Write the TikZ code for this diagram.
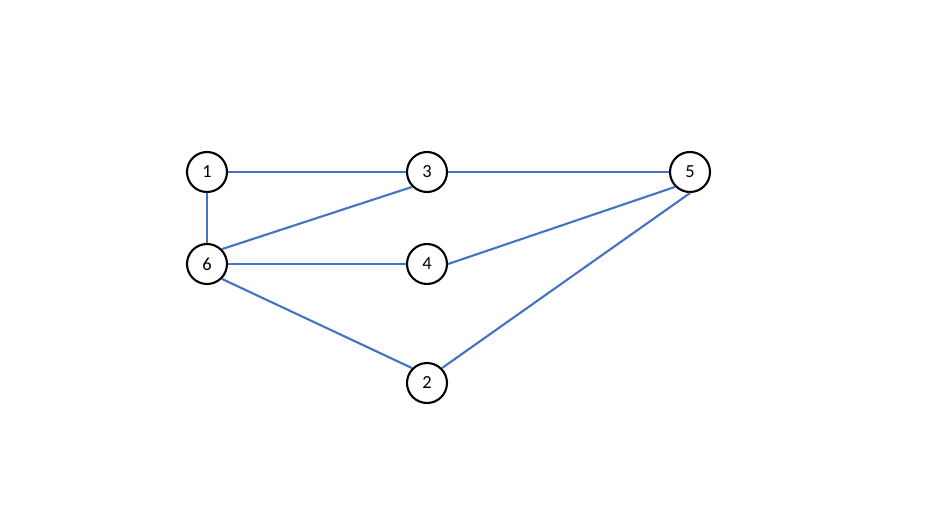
\documentclass[tikz,border=0pt]{standalone}
\usepackage{fontspec}
\setmainfont{Carlito}
\usetikzlibrary{positioning}
\definecolor{edgeblue}{RGB}{68,114,196}
\tikzset{
  vnode/.style={draw, circle, line width=1.2pt, minimum size=0.8cm,
                inner sep=0pt, fill=white, font=\fontsize{10.5}{12}\selectfont},
  gedge/.style={draw=edgeblue, line width=1.2pt},
}
\begin{document}
\begin{tikzpicture}
  \useasboundingbox (0,0) rectangle (18.8,10.58);
  %% vertices
  \node[vnode] (n1) at (4.14,7.14) {1};
  \node[vnode] (n3) at (8.54,7.14) {3};
  \node[vnode] (n5) at (13.8,7.14) {5};
  \node[vnode] (n6) at (4.14,5.30) {6};
  \node[vnode] (n4) at (8.54,5.30) {4};
  \node[vnode] (n2) at (8.54,2.92) {2};

  %% edges
  \draw[gedge] (n1) -- (n3);
  \draw[gedge] (n3) -- (n5);
  \draw[gedge] (n1) -- (n6);
  \draw[gedge] (n6.45) -- (n3.225);
  \draw[gedge] (n6) -- (n4);
  \draw[gedge] (n4.east) -- (n5.225);
  \draw[gedge] (n6.-45) -- (n2.135);
  \draw[gedge] (n2.45) -- (n5.south);
\end{tikzpicture}
\end{document}
